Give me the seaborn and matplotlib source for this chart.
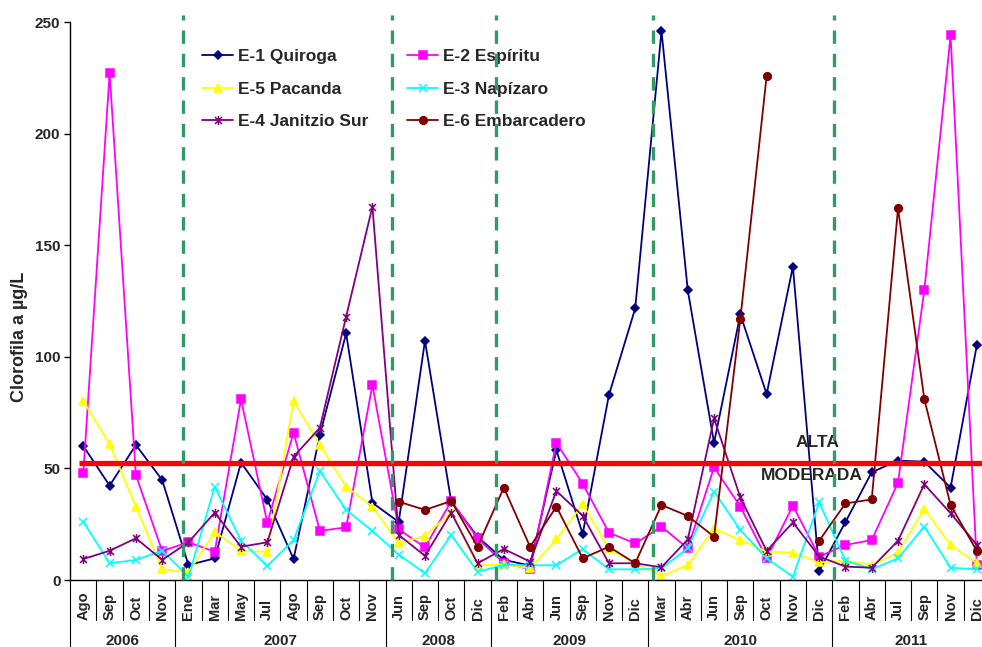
import numpy as np
import pandas as pd
import seaborn as sns
import matplotlib.pyplot as plt
import matplotlib.transforms as mtransforms
from matplotlib.path import Path

nan = np.nan

years = ["2006", "2007", "2008", "2009", "2010", "2011"]
months_per_year = [4, 8, 4, 6, 7, 6]
months = ["Ago", "Sep", "Oct", "Nov",
          "Ene", "Mar", "May", "Jul", "Ago", "Sep", "Oct", "Nov",
          "Jun", "Sep", "Oct", "Dic",
          "Feb", "Abr", "Jun", "Sep", "Nov", "Dic",
          "Mar", "Abr", "Jun", "Sep", "Oct", "Nov", "Dic",
          "Feb", "Abr", "Jul", "Sep", "Nov", "Dic"]

quiroga = [60, 42.3, 60.5, 44.8,
           6.7, 9.7, 52.6, 36, 9.4, 65, 110.5, 34.6,
           26, 107.2, 35, 19.4,
           9, 6.5, 58.2, 20.6, 82.9, 121.7,
           246, 129.8, 61.5, 119, 83.3, 140.4, 4,
           26, 48.3, 53.5, 53, 41.4, 105.3]
espiritu = [48.1, 227, 47, 13,
            16.9, 12.7, 81, 25.7, 66, 22, 23.6, 87.4,
            22.7, 14.6, 35.4, 18.7,
            7.6, 4.8, 61.5, 43.2, 21.2, 16.4,
            23.9, 14.2, 50.5, 32.9, 9.7, 33.3, 10.5,
            15.7, 17.9, 43.6, 129.8, 244, 6.7]
pacanda = [80.2, 60.8, 32.9, 4.9,
           3.4, 21.6, 13, 12.7, 80.2, 60.5, 41.8, 32.9,
           16.4, 19.9, 30.2, 6.6,
           7, 5.2, 18.2, 34, 14, 7.5,
           1.8, 6.6, 23, 17.9, 12.7, 12.3, 7.9,
           8.7, 6.7, 12.3, 31.8, 15.7, 7.5]
napizaro = [26.1, 7.5, 9, 13.1,
            1.5, 41.8, 17.6, 6.3, 17.9, 48.8, 31.4, 22,
            11.4, 3, 20.2, 3.7,
            6.7, 6.6, 6.6, 13.9, 4.8, 4.8,
            5.2, 14.2, 39.6, 22.4, 9.7, 1.5, 34.8,
            8.7, 4.8, 9.7, 23.9, 5.5, 4.8]
janitzio = [9.4, 13.1, 18.7, 9,
            16.9, 30.2, 14.9, 16.9, 55.2, 68.2, 118, 167.3,
            20.2, 10.8, 30.2, 7.5,
            13.9, 8.2, 39.9, 28.8, 7.5, 7.5,
            5.7, 18.2, 72.4, 37, 13, 25.8, 10.5,
            6, 5.5, 17.6, 42.9, 29.9, 15.7]
embarcadero = [nan, nan, nan, nan,
               nan, nan, nan, nan, nan, nan, nan, nan,
               35.1, 31.4, 35.4, 14.9,
               41.4, 14.9, 32.9, 9.7, 14.9, 7.5,
               33.6, 28.7, 19.4, 117, 225.8, nan, 17.6,
               34.3, 36.1, 166.5, 81.1, 33.6, 13]

season_marks = [3.79, 11.73, 15.69, 21.67, 28.56]
threshold = 52.5

sns.set_theme(style="white")
plt.rcParams["font.family"] = ["Liberation Sans", "DejaVu Sans"]
plt.rcParams["font.weight"] = "bold"

fig = plt.figure(figsize=(9.82, 6.47), dpi=100)
ax = fig.add_axes([70.2 / 982, 1 - 580 / 647, 919.8 / 982, 558 / 647])

star = Path([(-1, -1), (1, 1), (-1, 1), (1, -1), (0, -1.3), (0, 1.3)],
            [Path.MOVETO, Path.LINETO] * 3)

series = [
    ("E-1 Quiroga", quiroga, "#000080", "D", 3.9),
    ("E-2 Espíritu", espiritu, "#FF00FF", "s", 5.5),
    ("E-5 Pacanda", pacanda, "#FFFF00", "^", 6),
    ("E-3 Napízaro", napizaro, "#00FFFF", "x", 5.5),
    ("E-4 Janitzio Sur", janitzio, "#800080", star, 6.5),
    ("E-6 Embarcadero", embarcadero, "#800000", "o", 5.5),
]

x = np.arange(len(months))
for name, vals, color, mk, ms in series:
    df = pd.DataFrame({"x": x, "y": vals})
    ok = df["y"].notna()
    runs = (~ok).cumsum()[ok]
    hollow = mk == "x" or mk is star
    first = True
    # split at missing samples so the line breaks there
    for _, seg in df[ok].groupby(runs):
        sns.lineplot(data=seg, x="x", y="y", ax=ax, estimator=None, sort=False,
                     legend=False, color=color, linewidth=1.3,
                     marker=mk, markersize=ms, markeredgecolor=color,
                     markerfacecolor="none" if hollow else color,
                     markeredgewidth=1.1,
                     label=name if first else "_nolegend_")
        first = False

ax.hlines(threshold, -0.17, 34.5, color="#FF0000", linewidth=3.8, zorder=5)
for m in season_marks:
    ax.plot([m, m], [0, 253], color="#339966", linewidth=2.4,
            dashes=(4, 3), zorder=6, clip_on=False)

ax.text(27.92, 61.8, "ALTA", ha="center", va="center", fontsize=12.5, fontweight="bold")
ax.text(27.73, 46.6, "MODERADA", ha="center", va="center", fontsize=12.5, fontweight="bold")

ax.set_xlim(-0.5, len(months) - 0.5)
ax.set_ylim(0, 250)
ax.set_yticks(range(0, 251, 50))
ax.set_xticks([])
ax.tick_params(axis="y", direction="out", length=4, width=1, pad=3, left=True,
               labelsize=11, color="black")
for lab in ax.get_yticklabels():
    lab.set_fontweight("bold")
sns.despine(ax=ax)
for s in ("left", "bottom"):
    ax.spines[s].set_color("black")
    ax.spines[s].set_linewidth(1)

ax.set_xlabel("")
ax.set_ylabel("Clorofila a µg/L", fontsize=13, fontweight="bold")
ax.yaxis.set_label_coords(-0.046, 0.435)

# two-level category axis
trans = mtransforms.blended_transform_factory(ax.transData, ax.transAxes)
for i, m in enumerate(months):
    ax.text(i, -0.0717, m, rotation=90, ha="center", va="bottom",
            fontsize=10.5, fontweight="bold", transform=trans)
edges = np.concatenate([[0], np.cumsum(months_per_year)]) - 0.5
for i in range(1, len(months)):
    b = i - 0.5
    if b not in edges:
        ax.plot([b, b], [0, -0.0717], color="black", lw=0.8, transform=trans, clip_on=False)
for b in edges:
    ax.plot([b, b], [0, -0.2], color="black", lw=0.8, transform=trans, clip_on=False)
for k, yr in enumerate(years):
    c = (edges[k] + edges[k + 1]) / 2
    ax.text(c, -0.1102, yr, ha="center", va="center", fontsize=11,
            fontweight="bold", transform=trans)

h, l = ax.get_legend_handles_labels()
lookup = dict(zip(l, h))
order = ["E-1 Quiroga", "E-5 Pacanda", "E-4 Janitzio Sur",
         "E-2 Espíritu", "E-3 Napízaro", "E-6 Embarcadero"]
leg = ax.legend([lookup[k] for k in order], order, ncol=2, frameon=False,
                loc="upper left", bbox_to_anchor=(202 / 982, 1 - 49 / 647),
                bbox_transform=fig.transFigure, prop={"size": 12.5, "weight": "bold"},
                handlelength=1.8, handletextpad=0.3, columnspacing=2.2,
                labelspacing=1.0, borderpad=0, borderaxespad=0)

fig.savefig("out.png", dpi=100)
